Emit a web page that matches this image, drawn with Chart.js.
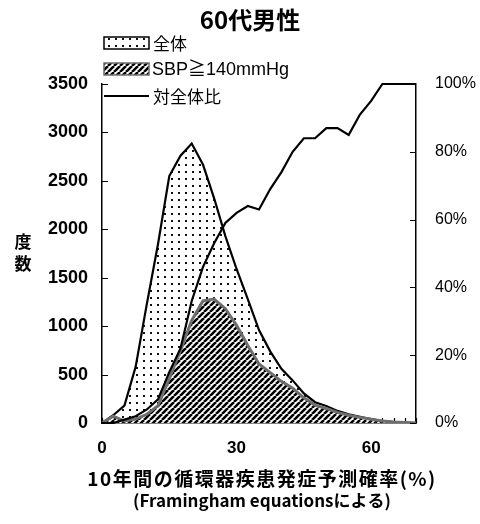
<!DOCTYPE html>
<html>
<head>
<meta charset="utf-8">
<script src="https://cdn.jsdelivr.net/npm/chart.js@4.4.1/dist/chart.umd.min.js"></script>
<style>
  body { margin: 0; background: #fff; }
  #chart { display: block; }
</style>
</head>
<body>
<canvas id="chart" width="480" height="524"></canvas>
<script>
// 10年間の予測確率 (%) — 2.5刻み
const riskPct = [0, 2.5, 5, 7.5, 10, 12.5, 15, 17.5, 20, 22.5, 25, 27.5, 30, 32.5, 35,
  37.5, 40, 42.5, 45, 47.5, 50, 52.5, 55, 57.5, 60, 62.5, 65, 67.5, 70];
// 全体 (度数)
const allCount = [0, 80, 180, 580, 1230, 1850, 2550, 2760, 2885, 2670, 2320, 1930, 1590, 1280, 960,
  740, 560, 440, 305, 215, 175, 125, 90, 65, 40, 20, 10, 5, 0];
// SBP≧140mmHg (度数)
const sbpCount = [0, 70, 20, 40, 90, 180, 460, 750, 1060, 1260, 1280, 1180, 1010, 800, 610,
  520, 430, 360, 260, 185, 150, 110, 80, 58, 38, 20, 10, 5, 0];
// 対全体比 (%)
const ratioPct = [0, 0, 1, 2, 4, 7, 15, 22, 36, 46, 53, 59, 62, 64, 63,
  69, 74, 80, 84, 84, 87, 87, 85, 91, 95, 100, 100, 100, 100];

const xLabelTicks = [0, 30, 60];
const legendLabels = ['全体', 'SBP≧140mmHg', '対全体比'];

const JP = '"Noto Sans CJK JP", "Liberation Sans", sans-serif';
const AR = '"Liberation Sans", Arial, sans-serif';

function dotPattern() {
  const c = document.createElement('canvas');
  c.width = 7; c.height = 7;
  const g = c.getContext('2d');
  g.fillStyle = '#fff'; g.fillRect(0, 0, 7, 7);
  g.fillStyle = '#111'; g.fillRect(3, 3, 2, 2);
  return g.createPattern(c, 'repeat');
}

function hatchPattern() {
  const s = 6;
  const c = document.createElement('canvas');
  c.width = s; c.height = s;
  const g = c.getContext('2d');
  g.fillStyle = '#fff'; g.fillRect(0, 0, s, s);
  g.strokeStyle = '#000'; g.lineWidth = 2.6;
  g.beginPath();
  [-s, 0, s].forEach(k => { g.moveTo(k, s); g.lineTo(k + s, 0); });
  g.stroke();
  return g.createPattern(c, 'repeat');
}

const dots = dotPattern();
const hatch = hatchPattern();

const toXY = arr => riskPct.map((x, i) => ({ x: x, y: arr[i] }));

// inward tick marks, drawn under the fills
const innerTicks = {
  id: 'innerTicks',
  beforeDatasetsDraw(chart) {
    const { ctx, chartArea: a, scales } = chart;
    ctx.save();
    ctx.strokeStyle = '#000';
    ctx.lineWidth = 1.2;
    ctx.beginPath();
    scales.y.ticks.forEach(t => {
      const p = Math.round(scales.y.getPixelForValue(t.value)) + 0.5;
      ctx.moveTo(a.left, p); ctx.lineTo(a.left + 6, p);
    });
    scales.y1.ticks.forEach(t => {
      const p = Math.round(scales.y1.getPixelForValue(t.value)) + 0.5;
      ctx.moveTo(a.right, p); ctx.lineTo(a.right - 6, p);
    });
    scales.x.ticks.forEach(t => {
      const p = Math.round(scales.x.getPixelForValue(t.value)) + 0.5;
      ctx.moveTo(p, a.bottom); ctx.lineTo(p, a.bottom - 5);
    });
    ctx.stroke();
    ctx.restore();
  }
};

// title, legend and axis titles
const decorations = {
  id: 'decorations',
  afterDraw(chart) {
    const { ctx } = chart;
    const ds = chart.data.datasets;
    ctx.save();
    ctx.fillStyle = '#000';
    ctx.textBaseline = 'middle';

    ctx.font = 'bold 24px ' + JP;
    ctx.textAlign = 'center';
    ctx.fillText('60代男性', 250, 20);

    // legend
    const bx = 104, bw = 45, rows = [43, 69, 96];
    ctx.textAlign = 'left';
    [0, 1].forEach(i => {
      ctx.fillStyle = ds[i].backgroundColor;
      ctx.fillRect(bx, rows[i] - 6, bw, 12);
      ctx.strokeStyle = ds[i].borderColor;
      ctx.lineWidth = 1.5;
      ctx.strokeRect(bx, rows[i] - 6, bw, 12);
    });
    ctx.strokeStyle = ds[2].borderColor;
    ctx.lineWidth = 2;
    ctx.beginPath();
    ctx.moveTo(bx, rows[2]); ctx.lineTo(bx + bw, rows[2]);
    ctx.stroke();
    ctx.fillStyle = '#000';
    ctx.font = '17px ' + JP;
    ctx.fillText(legendLabels[0], bx + bw + 4, rows[0] + 1);
    ctx.fillText(legendLabels[2], bx + bw + 4, rows[2] + 1);
    ctx.font = '18px ' + AR + ', "Noto Sans CJK JP"';
    ctx.fillText(legendLabels[1], bx + bw + 3, rows[1] + 1);

    // y title (vertical stacked)
    ctx.font = 'bold 17px ' + JP;
    ctx.textAlign = 'center';
    ctx.fillText('度', 23, 242);
    ctx.fillText('数', 23, 264);

    // x title
    ctx.font = 'bold 19px ' + JP;
    ctx.letterSpacing = '1.5px';
    ctx.fillText('10年間の循環器疾患発症予測確率(%)', 262, 479);
    ctx.letterSpacing = '0px';
    ctx.font = 'bold 17px ' + JP;
    ctx.fillText('(Framingham equationsによる)', 262, 501);
    ctx.restore();
  }
};

new Chart(document.getElementById('chart'), {
  type: 'line',
  data: {
    datasets: [
      {
        label: legendLabels[0],
        data: toXY(allCount),
        yAxisID: 'y',
        backgroundColor: dots,
        borderColor: '#000',
        borderWidth: 2.2,
        fill: 'origin',
        order: 3
      },
      {
        label: legendLabels[1],
        data: toXY(sbpCount),
        yAxisID: 'y',
        backgroundColor: hatch,
        borderColor: '#6e6e6e',
        borderWidth: 3,
        fill: 'origin',
        order: 2
      },
      {
        label: legendLabels[2],
        data: toXY(ratioPct),
        yAxisID: 'y1',
        borderColor: '#000',
        borderWidth: 2.2,
        fill: false,
        clip: 4,
        order: 1
      }
    ]
  },
  options: {
    responsive: false,
    animation: false,
    devicePixelRatio: 1,
    layout: { padding: { top: 84, left: 0, right: 0, bottom: 0 } },
    elements: { point: { radius: 0 }, line: { tension: 0 } },
    plugins: { legend: { display: false }, tooltip: { enabled: false }, title: { display: false } },
    scales: {
      x: {
        type: 'linear',
        min: 0, max: 70,
        afterFit: s => { s.height = 101; },
        border: { display: true, color: '#000', width: 1.5 },
        grid: { drawOnChartArea: false, drawTicks: false },
        ticks: {
          stepSize: 2.5,
          autoSkip: false,
          maxRotation: 0,
          padding: 15,
          color: '#000',
          font: { family: AR, size: 17, weight: 'bold' },
          callback: v => (xLabelTicks.includes(v) ? String(v) : '')
        }
      },
      y: {
        position: 'left',
        min: 0, max: 3500,
        afterFit: s => { s.width = 102; },
        border: { display: true, color: '#000', width: 1.5 },
        grid: { drawOnChartArea: false, drawTicks: false },
        ticks: {
          stepSize: 500, padding: 14, color: '#000',
          font: { family: AR, size: 18, weight: 'bold' },
          callback: v => String(v)
        }
      },
      y1: {
        position: 'right',
        min: 0, max: 100,
        afterFit: s => { s.width = 64; },
        border: { display: true, color: '#000', width: 1.5 },
        grid: { drawOnChartArea: false, drawTicks: false },
        ticks: { stepSize: 20, padding: 19, color: '#000', font: { family: AR, size: 16 }, callback: v => v + '%' }
      }
    }
  },
  plugins: [innerTicks, decorations]
});
</script>
</body>
</html>
